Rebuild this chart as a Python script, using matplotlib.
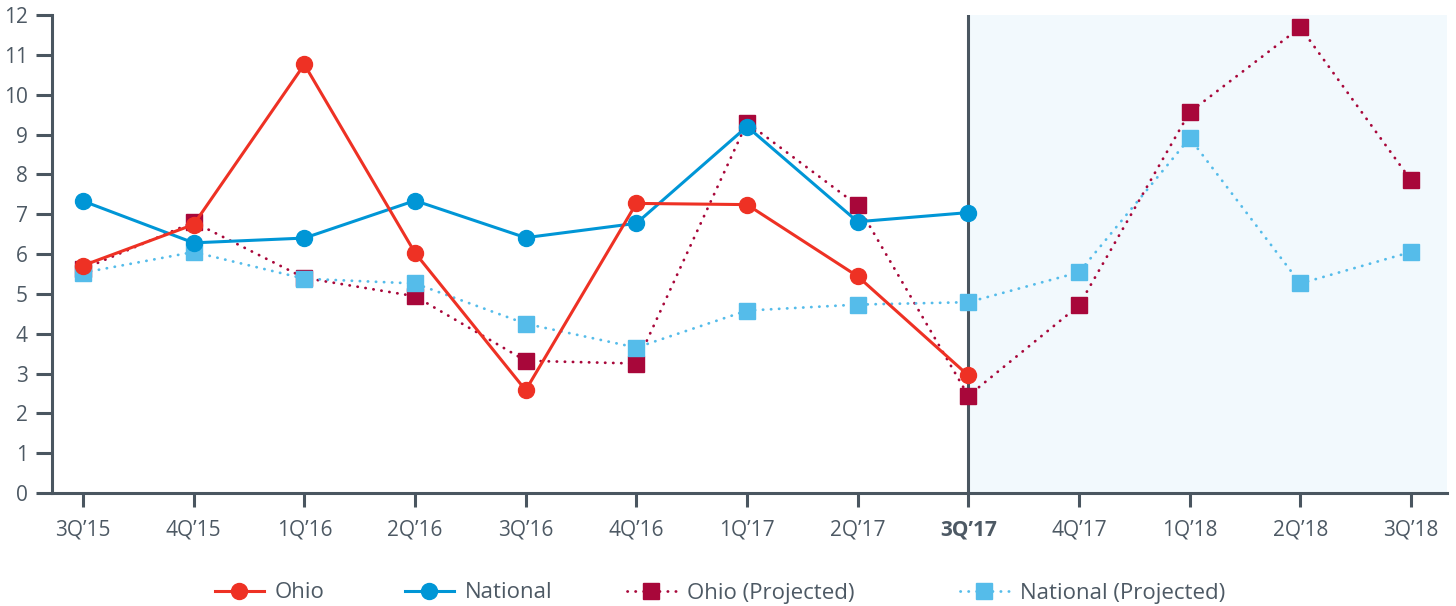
import numpy as np
import matplotlib.pyplot as plt

plt.rcParams['font.family'] = ['Open Sans', 'DejaVu Sans']

quarters = ["3Q\u201915", "4Q\u201915", "1Q\u201916", "2Q\u201916", "3Q\u201916", "4Q\u201916",
            "1Q\u201917", "2Q\u201917", "3Q\u201917", "4Q\u201917", "1Q\u201918", "2Q\u201918", "3Q\u201918"]

# actuals stop at 3Q'17
ohio = [5.71, 6.74, 10.76, 6.03, 2.58, 7.27, 7.24, 5.44, 2.95]
national = [7.33, 6.28, 6.40, 7.34, 6.41, 6.77, 9.20, 6.81, 7.04]
ohio_proj = [5.62, 6.80, 5.40, 4.94, 3.32, 3.25, 9.30, 7.22, 2.44, 4.71, 9.56, 11.69, 7.85]
national_proj = [5.53, 6.05, 5.38, 5.26, 4.25, 3.65, 4.58, 4.73, 4.79, 5.54, 8.91, 5.26, 6.05]

c_ohio = '#EE3124'
c_nat = '#0096D6'
c_ohio_p = '#A8073A'
c_nat_p = '#55BCEA'
c_axis = '#4A5660'
c_text = '#4D5964'

fig = plt.figure(figsize=(14.56, 6.06), dpi=100)
ax = fig.add_axes([52/1456, 113/606, (1447-52)/1456, (493-15)/606])

x_all = np.arange(len(quarters))
x_act = np.arange(len(ohio))
split = len(ohio) - 1

# projected region
ax.axvspan(split, 12.325, color='#F2F9FD', zorder=0, lw=0)
ax.axvline(split, color=c_axis, lw=2.2, zorder=1)

dots = (0, (0.1, 2.8))
l_op, = ax.plot(x_all, ohio_proj, color=c_ohio_p, lw=2, linestyle=dots,
                dash_capstyle='round', marker='s', markersize=11, zorder=2)
l_np, = ax.plot(x_all, national_proj, color=c_nat_p, lw=2, linestyle=dots,
                dash_capstyle='round', marker='s', markersize=11, zorder=3)
l_n, = ax.plot(x_act, national, color=c_nat, lw=2.2, marker='o', markersize=11.5, zorder=4)
l_o, = ax.plot(x_act, ohio, color=c_ohio, lw=2.2, marker='o', markersize=11.5, zorder=5)

ax.set_xlim(-0.28, 12.325)
ax.set_ylim(0, 12)
ax.set_yticks(range(0, 13))
ax.set_xticks(x_all)
ax.set_xticklabels(quarters)
for i, lbl in enumerate(ax.get_xticklabels()):
    if i == split:
        lbl.set_fontweight('bold')

for s in ['top', 'right']:
    ax.spines[s].set_visible(False)
for s in ['left', 'bottom']:
    ax.spines[s].set_color(c_axis)
    ax.spines[s].set_linewidth(2.2)

ax.tick_params(axis='y', length=11.5, width=2.2, color=c_axis, labelcolor=c_text,
               labelsize=15, pad=6)
ax.tick_params(axis='x', length=10, width=2.2, color=c_axis, labelcolor=c_text,
               labelsize=15, pad=9)

# legend entries placed one by one to match the uneven spacing
entries = [(l_o, 'Ohio', 215), (l_n, 'National', 405),
           (l_op, 'Ohio (Projected)', 627), (l_np, 'National (Projected)', 960)]
for h, name, xpix in entries:
    leg = fig.legend([h], [name], loc='center left', bbox_to_anchor=(xpix/1456, 1 - 593/606),
                     frameon=False, fontsize=16, handlelength=2.2, handletextpad=0.5,
                     borderpad=0, borderaxespad=0)
    for t in leg.get_texts():
        t.set_color(c_text)

fig.savefig('out.png', dpi=100)
